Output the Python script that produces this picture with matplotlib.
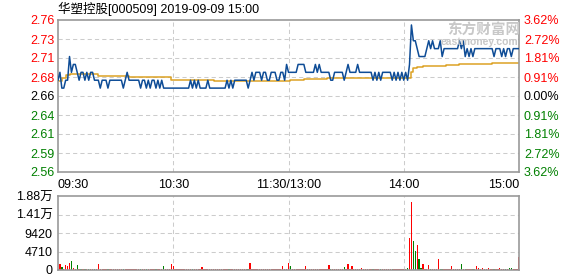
import numpy as np
import matplotlib
matplotlib.use("Agg")
import matplotlib.pyplot as plt

title = "华塑控股[000509] 2019-09-09 15:00"
pre_close = 2.66
max_pct = 0.0362

price_labels = ["2.76", "2.73", "2.71", "2.68", "2.66", "2.64", "2.61", "2.59", "2.56"]
pct_labels = ["3.62%", "2.72%", "1.81%", "0.91%", "0.00%", "0.91%", "1.81%", "2.72%", "3.62%"]
time_labels = ["09:30", "10:30", "11:30/13:00", "14:00", "15:00"]
time_pos = [0, 60, 120, 180, 240]
vol_labels = ["0", "4710", "9420", "1.41万", "1.88万"]
vol_max = 18840

# minute prices, in fen
price_fen = [
    268, 269, 267, 267, 268, 268, 271, 269, 270, 270,
    269, 268, 269, 269, 268, 269, 268, 269, 269, 268,
    268, 268, 267, 268, 268, 268, 267, 268, 268, 268,
    268, 268, 268, 268, 267, 268, 269, 268, 268, 268,
    268, 268, 268, 267, 268, 268, 267, 268, 267, 268,
    268, 267, 268, 267, 268, 267, 267, 267, 267, 267,
    267, 267, 267, 267, 267, 267, 267, 267, 267, 268,
    267, 268, 267, 268, 267, 267, 267, 267, 268, 267,
    267, 267, 267, 267, 267, 267, 267, 267, 268, 267,
    268, 267, 268, 268, 268, 268, 268, 268, 268, 267,
    268, 269, 268, 269, 269, 269, 268, 269, 269, 268,
    268, 269, 269, 269, 268, 268, 269, 269, 268, 270,
    269, 269, 269, 269, 269, 270, 270, 270, 270, 269,
    269, 269, 269, 269, 270, 269, 270, 269, 269, 269,
    269, 269, 268, 268, 269, 269, 269, 269, 269, 268,
    269, 270, 269, 269, 269, 269, 270, 269, 269, 269,
    269, 269, 269, 269, 268, 269, 268, 269, 268, 269,
    269, 269, 269, 269, 268, 269, 268, 269, 268, 269,
    268, 269, 268, 270, 275, 273, 273, 272, 271, 271,
    271, 271, 272, 273, 272, 273, 272, 272, 272, 273,
    271, 272, 272, 272, 272, 272, 272, 272, 272, 273,
    272, 273, 271, 272, 271, 272, 271, 272, 272, 272,
    272, 272, 272, 272, 272, 272, 272, 271, 272, 272,
    272, 271, 272, 271, 272, 272, 271, 272, 272, 272,
    272,
]

avg_min = [0, 2, 4, 6, 21, 37, 59, 81, 121, 128, 140, 183, 184, 185, 187, 190, 200, 202, 209, 226, 240]
avg_val = [2.6795, 2.683, 2.686, 2.688, 2.6853, 2.6845, 2.6803, 2.679, 2.6800, 2.6816, 2.6825,
           2.6830, 2.690, 2.6955, 2.6964, 2.6977, 2.6982, 2.699, 2.7009, 2.7021, 2.7021]

volume = [
    300, 1530, 680, 250, 1190, 1020, 1700, 2290, 510, 250,
    1270, 250, 200, 200, 200, 200, 200, 200, 200, 200,
    200, 1530, 200, 200, 200, 200, 200, 200, 200, 200,
    200, 200, 200, 200, 200, 200, 200, 200, 200, 200,
    200, 200, 200, 200, 200, 200, 200, 200, 200, 200,
    200, 200, 200, 200, 200, 1020, 200, 200, 200, 1530,
    1020, 200, 200, 200, 200, 200, 200, 200, 200, 200,
    200, 200, 200, 200, 200, 680, 200, 200, 200, 200,
    200, 200, 200, 200, 200, 200, 200, 200, 200, 200,
    200, 200, 200, 200, 200, 200, 200, 200, 200, 200,
    1870, 200, 200, 200, 200, 200, 200, 200, 200, 200,
    200, 200, 200, 200, 200, 200, 200, 1020, 200, 200,
    1870, 1100, 200, 200, 200, 200, 200, 200, 200, 1020,
    200, 200, 200, 200, 200, 200, 200, 200, 200, 200,
    200, 1270, 200, 200, 200, 200, 200, 200, 200, 850,
    200, 1530, 200, 1020, 200, 200, 200, 200, 510, 200,
    200, 200, 200, 200, 200, 200, 200, 200, 200, 200,
    200, 200, 200, 200, 200, 200, 200, 200, 200, 200,
    200, 200, 510, 8240, 17400, 7470, 4920, 6370, 2800, 510,
    1530, 200, 200, 1270, 200, 200, 200, 200, 2800, 300,
    200, 200, 200, 200, 200, 1020, 200, 200, 200, 200,
    1530, 200, 200, 200, 200, 200, 200, 200, 1020, 510,
    200, 510, 200, 200, 510, 200, 200, 200, 200, 200,
    510, 200, 200, 200, 200, 510, 510, 200, 200, 200,
    3310,
]
green_min = [2, 7, 10, 12, 14, 16, 19, 26, 34, 43, 46, 51, 55, 70, 89, 99, 121, 142, 149,
             164, 168, 174, 182, 185, 186, 188, 189, 194, 199, 200, 210, 212, 216, 227, 233, 235, 236]

W, H = 578, 276
RED, GREEN = "#ff0000", "#008000"
font = ["Liberation Sans", "Noto Sans CJK SC", "DejaVu Sans"]
plt.rcParams["font.family"] = font
plt.rcParams["font.size"] = 9

fig = plt.figure(figsize=(W / 100, H / 100), dpi=100)

def box(l, t, r, b):
    return [l / W, 1 - b / H, (r - l) / W, (b - t) / H]

ax = fig.add_axes(box(58, 20, 519, 172))
axv = fig.add_axes(box(58, 196, 519, 270))

minutes = np.arange(len(price_fen))
price = np.array(price_fen) / 100.0
lo, hi = pre_close * (1 - max_pct), pre_close * (1 + max_pct)
levels = np.linspace(hi, lo, 9)

grid_kw = dict(color="#cccccc", lw=0.75, ls=(0, (4, 3)), zorder=0)
for a in (ax, axv):
    a.set_xlim(0, 240)
    for t in time_pos[1:-1]:
        a.axvline(t, **grid_kw)
    for s in a.spines.values():
        s.set_color("#999999")
        s.set_linewidth(1.2)
    a.tick_params(length=0)
    a.set_xticks([])

for lv in levels[1:-1]:
    ax.axhline(lv, **grid_kw)

ax.plot(minutes, price, color="#0e4c96", lw=1.1, zorder=3)
ax.plot(avg_min, avg_val, color="#dca224", lw=1.1, drawstyle="steps-post", zorder=2)
ax.set_ylim(lo, hi)

lab_colors = [RED] * 4 + ["black"] + [GREEN] * 4
ax.set_yticks(levels)
ax.set_yticklabels(price_labels)
ax.tick_params(axis="y", pad=2.5)
for t, c in zip(ax.get_yticklabels(), lab_colors):
    t.set_color(c)

axr = ax.twinx()
axr.set_ylim(lo, hi)
axr.set_yticks(levels)
axr.set_yticklabels(pct_labels)
axr.tick_params(length=0, pad=3.5)
for t, c in zip(axr.get_yticklabels(), lab_colors):
    t.set_color(c)
for s in axr.spines.values():
    s.set_visible(False)

ha = ["left", "center", "center", "center", "right"]
for t, lab, h in zip(time_pos, time_labels, ha):
    ax.text(t, -0.045, lab, transform=ax.get_xaxis_transform(), ha=h, va="top", fontsize=9)

bar_colors = [GREEN if m in green_min else RED for m in minutes]
axv.bar(minutes, volume, width=0.7, color=bar_colors, edgecolor=bar_colors,
        linewidth=0, antialiased=False, zorder=2)
axv.set_ylim(0, vol_max)
vol_ticks = np.linspace(0, vol_max, 5)
for lv in vol_ticks[1:-1]:
    axv.axhline(lv, **grid_kw)
axv.set_yticks(vol_ticks)
axv.set_yticklabels(vol_labels)
axv.tick_params(axis="y", pad=4)

fig.text(58 / W, 1 - 9 / H, title, ha="left", va="center", fontsize=9, color="black")

# watermark
fig.text(484 / W, 1 - 30 / H, "东方财富网", ha="center", va="center", fontsize=10.5,
         fontweight="bold", color="#c8c8c8", family=["Noto Sans CJK SC"], zorder=1)
fig.text(479 / W, 1 - 42 / H, "eastmoney.com", ha="center", va="center", fontsize=7.5,
         fontweight="bold", color="#c8c8c8", zorder=1)

fig.savefig("out.png", dpi=100)
